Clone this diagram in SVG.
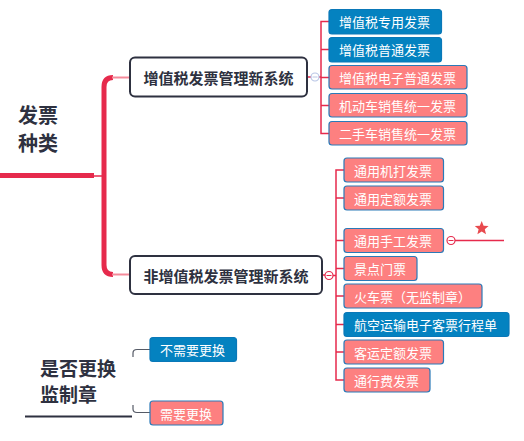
<svg xmlns="http://www.w3.org/2000/svg" width="524" height="441" viewBox="0 0 524 441">
<style>
.bx{stroke-width:1.2;}
.blue{fill:#0482c0;stroke:#0a78b8;}
.pink{fill:#fd8080;stroke:#2a7ab8;}
.bt{font-family:"Noto Sans CJK SC","Noto Sans",sans-serif;font-size:13px;fill:#ffffff;dominant-baseline:central;}
.mt{font-family:"Noto Sans CJK SC","Noto Sans",sans-serif;font-size:15px;font-weight:bold;fill:#2e3140;dominant-baseline:central;text-anchor:middle;}
.rt{font-family:"Noto Sans CJK SC","Noto Sans",sans-serif;font-weight:bold;fill:#2e3140;}
.red{fill:none;stroke:#e62a4c;stroke-width:1.5;}
.gray{fill:none;stroke:#555a66;stroke-width:1.2;}
</style>
<rect width="524" height="441" fill="#ffffff"/>
<g id="connectors">
<line x1="0" y1="175.5" x2="94" y2="175.5" stroke="#e62a4c" stroke-width="5"/>
<line x1="94" y1="176" x2="103" y2="176" stroke="#e62a4c" stroke-width="1.5"/>
<path d="M113 77.5 Q104 77.5 104 87 V265 Q104 274.5 113 274.5" fill="none" stroke="#e62a4c" stroke-width="5"/>
<line x1="112" y1="77.5" x2="130" y2="77.5" stroke="#f48a9a" stroke-width="2"/>
<line x1="112" y1="274.5" x2="130" y2="274.5" stroke="#f48a9a" stroke-width="2"/>
<path class="red" d="M307 77 H311 M319 77 H321 M329 21.5 H321 V133.5 H329 M321 49.5 H329 M321 77.5 H329 M321 105.5 H329"/>
<path class="red" d="M322 275 H325 M333 275.5 H336 M344 170 H336 V380 H344 M336 198 H344 M336 240.5 H344 M336 268.5 H344 M336 296 H344 M336 324.5 H344 M336 352 H344"/>
<line x1="455" y1="240.5" x2="504" y2="240.5" stroke="#e62a4c" stroke-width="1.5"/>
<circle cx="315" cy="77" r="4" fill="#ffffff" stroke="#b9c6e6" stroke-width="1.2"/>
<line x1="312.5" y1="77" x2="317.5" y2="77" stroke="#b9c6e6" stroke-width="1"/>
<circle cx="329" cy="275.5" r="4" fill="#ffffff" stroke="#e62a4c" stroke-width="1.2"/>
<line x1="326.5" y1="275.5" x2="331.5" y2="275.5" stroke="#e62a4c" stroke-width="1"/>
<circle cx="451" cy="240.5" r="4" fill="#ffffff" stroke="#e62a4c" stroke-width="1.2"/>
<line x1="448.5" y1="240.5" x2="453.5" y2="240.5" stroke="#e62a4c" stroke-width="1"/>
<line x1="25" y1="416.5" x2="132" y2="416.5" stroke="#2e3140" stroke-width="2"/>
<path class="gray" d="M133 357 V353 Q133 349.5 137 349.5 H150"/>
<path class="gray" d="M133 405 V409 Q133 412.5 137 412.5 H150"/>
</g>
<g id="root">
<text class="rt" font-size="20" x="18" y="123">发票</text>
<text class="rt" font-size="20" x="18" y="151">种类</text>
</g>
<g id="star">
<polygon points="481.7,221 483.6,225.8 488.6,226.1 484.8,229.3 486,234.3 481.7,231.5 477.4,234.3 478.6,229.3 474.8,226.1 479.8,225.8" fill="#e84a4e"/>
</g>
<g id="n1"><rect x="130" y="57.5" width="177" height="39" rx="5" fill="#ffffff" stroke="#2e3140" stroke-width="2"/><text class="mt" x="218.5" y="77.5">增值税发票管理新系统</text></g>
<g id="n2"><rect x="130" y="256" width="192" height="38" rx="5" fill="#ffffff" stroke="#2e3140" stroke-width="2"/><text class="mt" x="226" y="275">非增值税发票管理新系统</text></g>
<g id="a1"><rect class="bx blue" x="329" y="9.5" width="112.5" height="24.5" rx="3"/><text class="bt" x="339" y="21.5">增值税专用发票</text></g>
<g id="a2"><rect class="bx blue" x="329" y="37.5" width="112.5" height="24.5" rx="3"/><text class="bt" x="339" y="49.5">增值税普通发票</text></g>
<g id="a3"><rect class="bx pink" x="329" y="65.5" width="138" height="23.5" rx="3"/><text class="bt" x="339" y="77.5">增值税电子普通发票</text></g>
<g id="a4"><rect class="bx pink" x="329" y="93.5" width="138" height="23.5" rx="3"/><text class="bt" x="339" y="105.5">机动车销售统一发票</text></g>
<g id="a5"><rect class="bx pink" x="329" y="121.5" width="138" height="23.5" rx="3"/><text class="bt" x="339" y="133.5">二手车销售统一发票</text></g>
<g id="b1"><rect class="bx pink" x="344" y="158" width="99.5" height="24" rx="3"/><text class="bt" x="354" y="170">通用机打发票</text></g>
<g id="b2"><rect class="bx pink" x="344" y="186" width="99.5" height="24" rx="3"/><text class="bt" x="354" y="198">通用定额发票</text></g>
<g id="b3"><rect class="bx pink" x="344" y="228.5" width="99.5" height="24" rx="3"/><text class="bt" x="354" y="240.5">通用手工发票</text></g>
<g id="b4"><rect class="bx pink" x="344" y="256.5" width="73" height="24" rx="3"/><text class="bt" x="354" y="268.5">景点门票</text></g>
<g id="b5"><rect class="bx pink" x="344" y="284" width="138" height="24" rx="3"/><text class="bt" x="354" y="296">火车票（无监制章）</text></g>
<g id="b6"><rect class="bx blue" x="344" y="312.5" width="165" height="24" rx="3"/><text class="bt" x="354" y="324.5">航空运输电子客票行程单</text></g>
<g id="b7"><rect class="bx pink" x="344" y="340" width="99.5" height="24" rx="3"/><text class="bt" x="354" y="352">客运定额发票</text></g>
<g id="b8"><rect class="bx pink" x="344" y="368" width="86" height="24" rx="3"/><text class="bt" x="354" y="380">通行费发票</text></g>
<g id="q">
<text class="rt" font-size="19" x="40" y="376">是否更换</text>
<text class="rt" font-size="19" x="40" y="402">监制章</text>
</g>
<g id="c1"><rect class="bx blue" x="150" y="337.5" width="86.5" height="24" rx="3"/><text class="bt" x="160" y="349.5">不需要更换</text></g>
<g id="c2"><rect class="bx pink" x="150" y="401" width="73" height="24" rx="3"/><text class="bt" x="160" y="413">需要更换</text></g>
</svg>
